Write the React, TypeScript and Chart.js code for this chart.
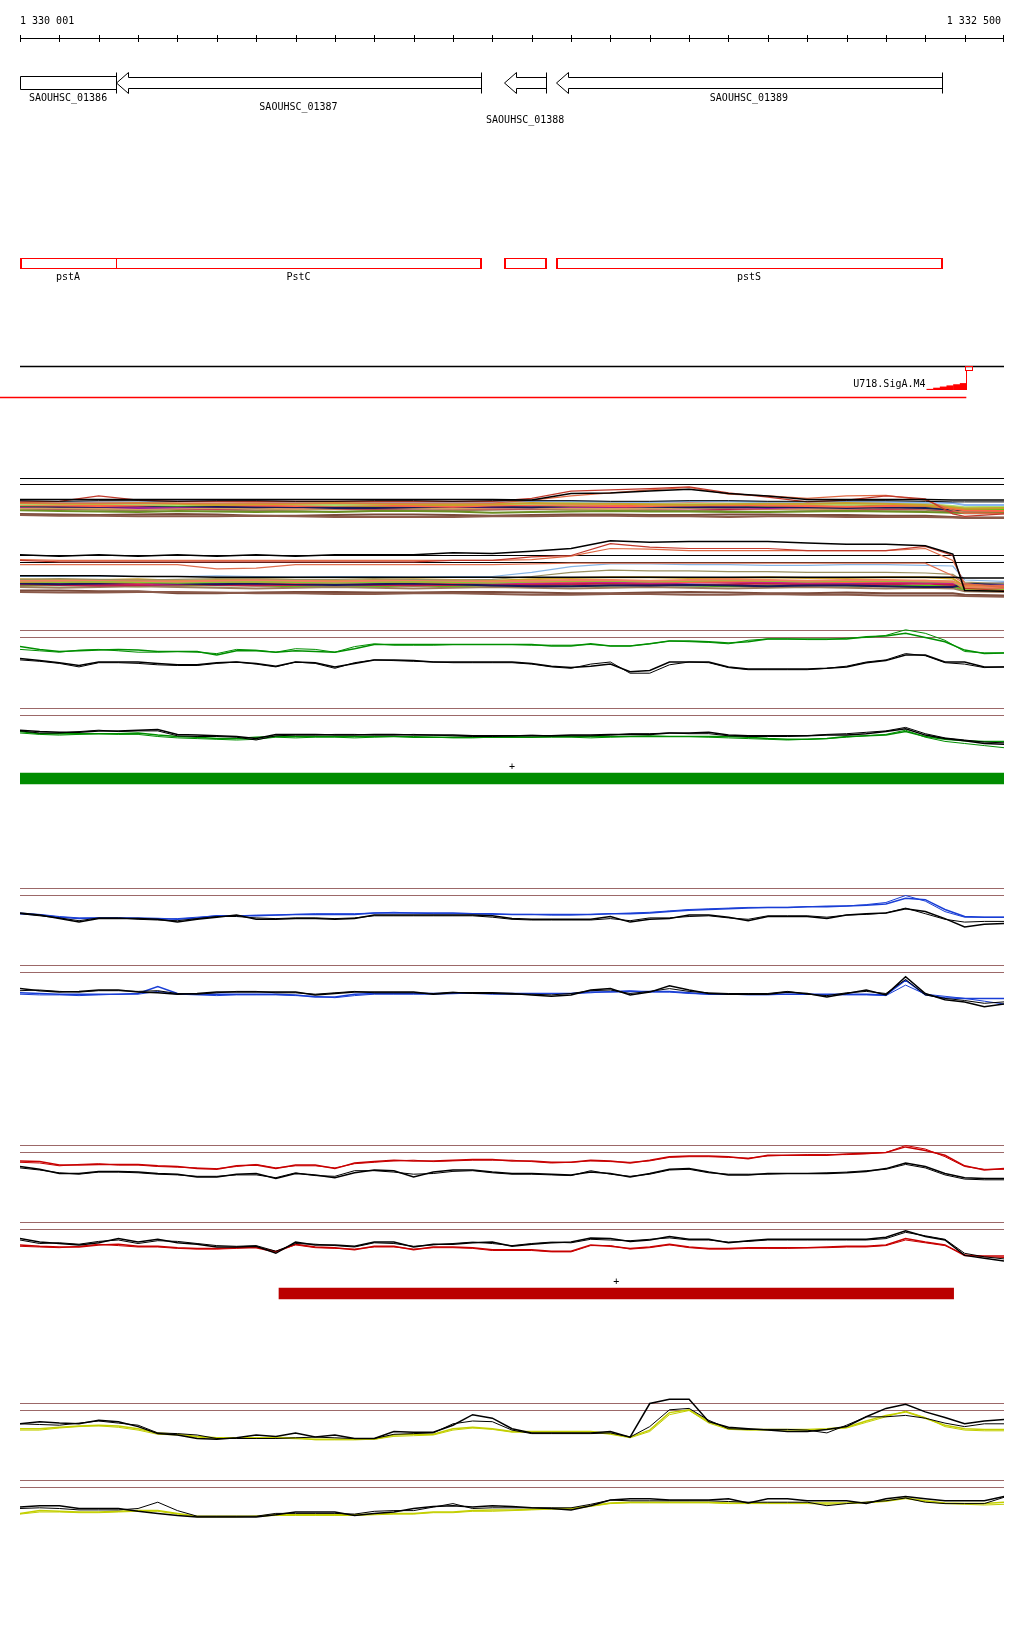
import React, { useEffect, useRef } from 'react';
import { Chart, registerables } from 'chart.js';

Chart.register(...registerables);

// ---------------- view / ruler ----------------
const VIEW_START = 1330000;
const VIEW_END = 1332500;
const RULER_STEP = 100;
const RULER_LABELS = ['1 330 001', '1 332 500'];

// ---------------- gene annotation ----------------
const GENE_NAMES = ['SAOUHSC_01386', 'SAOUHSC_01387', 'SAOUHSC_01388', 'SAOUHSC_01389'];
const GENE_STARTS = [1329700, 1330244, 1331230, 1331361];
const GENE_ENDS = [1330244, 1331171, 1331337, 1332343];
const GENE_STRANDS = ['-', '-', '-', '-'];

const OPERON_NAMES = ['pstA', 'PstC', '', 'pstS'];
const OPERON_STARTS = [1329700, 1330244, 1331230, 1331361];
const OPERON_ENDS = [1330244, 1331171, 1331337, 1332343];

const PROMOTER_NAME = 'U718.SigA.M4';
const PROMOTER_POS = 1332403;
const TRANSCRIPT_START = 1329900;
const TRANSCRIPT_END = 1332403;

const FEATURE_GREEN = [1329900, 1332600];
const FEATURE_RED = [1330658, 1332372];
const FEATURE_STRAND = '+';

const REF_LEVELS = [12, 11];

// sample positions
const POS51 = Array.from({ length: 51 }, (_, i) => VIEW_START + 50 * i);
const POS_MC = [1330000, 1330100, 1330200, 1330300, 1330400, 1330500, 1330600, 1330700, 1330800, 1330900,
  1331000, 1331100, 1331200, 1331300, 1331400, 1331500, 1331600, 1331700, 1331800, 1331900,
  1332000, 1332100, 1332200, 1332300, 1332370, 1332400, 1332500];

// ---------------- multi-condition panel, upper ----------------
const MC1_BLACK = [8.5,8.5,8.5,8.5,8.5,8.5,8.5,8.5,8.5,8.5,8.5,8.5,8.5,8.4,9.5,9.6,9.9,10.2,9.5,9.1,8.5,8.5,8.5,8.5,8.4,8.4,8.4];
const MC1_BLACK2 = [8.3,8.2,8.3,8.3,8.2,8.3,8.3,8.2,8.2,8.3,8.3,8.2,8.3,8.3,8.3,8.2,8.2,8.3,8.3,8.2,8.2,8.3,8.3,8.2,8.1,8.1,8.1];
const MC1_RED = [8.1,8.2,9.1,8.4,8.2,8.2,8.2,8.2,8.2,8.2,8.2,8.2,8.2,8.7,9.9,10.1,10.3,10.6,9.6,8.9,8.1,8.4,9.1,8.6,6.1,5.7,6.1];
const MC1_ORANGE = [7.9,7.9,7.9,7.9,7.9,7.9,7.9,7.9,7.9,7.9,7.9,7.9,7.9,8.4,9.1,9.6,10.1,10.5,9.4,9.1,8.7,9.1,9.2,8.4,6.7,6.2,6.2];
const MC1_LIGHTBLUE = [8.1,8.1,8.0,8.0,8.2,8.2,8.2,8.1,8.1,8.0,8.0,8.1,8.1,8.2,8.2,8.1,8.1,8.2,8.2,8.1,8.0,8.1,8.1,8.0,7.9,7.6,7.6];
const MC1_GOLD = [7.9,7.8,7.8,7.9,7.8,7.6,7.7,7.8,7.9,7.8,7.7,7.6,7.7,7.9,7.8,7.8,7.7,7.6,7.7,7.8,7.8,7.9,7.8,7.6,7.2,7.0,7.1];
const MC1_PURPLE = [7.3,7.4,7.3,7.1,7.2,7.3,7.3,7.2,7.2,7.3,7.4,7.3,7.2,7.2,7.3,7.3,7.4,7.3,7.2,7.1,7.2,7.3,7.2,7.2,6.9,6.8,6.9];
const MC1_OLIVE = [6.7,6.6,6.5,6.4,6.6,6.5,6.4,6.5,6.4,6.6,6.6,6.5,6.3,6.4,6.5,6.6,6.5,6.5,6.4,6.4,6.5,6.6,6.5,6.4,6.3,6.3,6.4];
const MC1_GREEN = [7.5,7.6,7.7,7.6,7.5,7.6,7.7,7.6,7.5,7.4,7.5,7.6,7.7,7.6,7.5,7.5,7.6,7.7,7.6,7.5,7.6,7.7,7.5,7.4,7.0,6.8,6.9];
const MC1_TOMATO = [7.6,7.5,7.4,7.5,7.7,7.6,7.5,7.4,7.5,7.5,7.4,7.3,7.5,7.6,7.5,7.4,7.4,7.5,7.6,7.5,7.4,7.3,7.4,7.5,7.0,6.7,6.6];
const MC1_TAN = [7.0,7.1,7.0,6.9,7.0,7.1,7.0,6.9,7.0,7.2,7.1,7.0,7.0,7.1,7.0,6.9,7.0,7.1,7.1,7.0,6.9,7.0,7.1,7.0,6.7,6.5,6.6];
const MC1_NAVY = [7.4,7.3,7.3,7.4,7.4,7.3,7.2,7.3,7.1,7.1,7.2,7.3,7.3,7.2,7.4,7.5,7.3,7.2,7.2,7.3,7.2,7.1,7.2,7.1,6.8,6.7,6.7];
const MC1_CRIMSON = [7.1,7.0,7.1,7.2,7.0,6.9,7.1,7.2,7.0,7.0,7.1,7.0,6.9,7.0,7.1,7.2,7.0,7.0,6.9,7.0,7.1,7.0,6.9,7.0,6.6,6.5,6.6];
const MC1_TAUPE = [6.8,6.9,6.8,6.7,6.9,6.8,6.7,6.8,6.9,6.8,6.7,6.7,6.8,6.9,6.8,6.8,6.7,6.6,6.8,6.9,6.8,6.7,6.8,6.8,6.4,6.2,6.2];
const MC1_BROWN = [6.1,6.0,5.9,6.0,6.1,6.0,5.8,5.8,5.9,6.0,6.0,5.9,5.8,5.9,6.0,6.0,5.9,5.9,6.0,6.0,5.9,5.9,5.8,5.8,5.6,5.5,5.5];
const MC1_SIENNA = [5.9,5.8,5.8,5.7,5.7,5.7,5.8,5.7,5.6,5.6,5.6,5.6,5.7,5.7,5.8,5.8,5.7,5.7,5.6,5.7,5.7,5.6,5.6,5.6,5.5,5.4,5.4];
const MC1_SALMON = [7.8,7.9,8.0,7.9,7.8,7.8,7.9,8.0,7.9,7.8,7.9,8.0,7.9,7.7,7.6,7.7,7.8,7.9,7.8,7.7,7.7,7.8,7.9,7.8,7.3,7.1,7.2];
const MC1_LIGHTGREEN = [7.7,7.7,7.8,7.7,7.6,7.7,7.8,7.7,7.6,7.7,7.8,7.8,7.7,7.8,7.9,7.8,7.7,7.7,7.8,7.9,7.8,7.7,7.8,7.7,7.4,7.2,7.3];

// ---------------- multi-condition panel, lower ----------------
const MC2_BLACK = [12.1,11.9,12.1,11.9,12.1,11.9,12.1,11.9,12.1,12.1,12.1,12.4,12.3,12.6,13.0,14.1,13.9,14.0,14.0,14.0,13.8,13.6,13.6,13.4,12.2,7.0,6.9];
const MC2_BLACK2 = [9.1,9.1,9.1,9.0,9.0,8.9,8.9,8.9,8.9,8.9,8.9,8.9,8.9,8.9,8.9,8.9,8.9,8.9,8.9,8.9,8.9,8.9,8.9,8.9,8.9,8.8,8.8];
const MC2_RED = [11.3,11.1,11.1,11.1,11.1,11.1,11.1,11.1,11.1,11.1,11.1,11.3,11.3,11.8,12.0,13.7,13.2,13.0,13.0,13.0,12.7,12.7,12.7,13.3,12.0,7.3,7.0];
const MC2_ORANGE = [10.7,10.7,10.7,10.7,10.7,10.1,10.2,10.7,10.7,10.7,10.7,10.7,10.7,10.8,10.9,10.9,10.9,10.9,10.9,10.9,10.9,10.9,10.9,10.9,9.1,7.9,7.6];
const MC2_ORANGE2 = [11.4,11.3,11.3,11.3,11.3,11.3,11.3,11.3,11.3,11.3,11.3,11.3,11.3,11.4,11.9,13.0,12.9,12.7,12.7,12.7,12.7,12.7,12.7,13.0,11.3,8.0,7.4];
const MC2_LIGHTBLUE = [9.0,9.0,9.1,9.0,9.0,9.1,9.0,8.9,9.0,9.0,8.9,9.0,9.0,9.6,10.4,10.8,10.8,10.7,10.7,10.6,10.6,10.7,10.7,10.6,10.5,8.5,8.3];
const MC2_OLIVEGRAY = [8.6,8.7,8.6,8.5,8.6,8.7,8.7,8.6,8.6,8.7,8.6,8.5,8.6,9.0,9.6,9.9,9.8,9.8,9.7,9.7,9.6,9.6,9.6,9.5,9.3,8.2,8.0];
const MC2_GOLD = [8.6,8.5,8.5,8.6,8.4,8.5,8.6,8.5,8.4,8.5,8.6,8.5,8.4,8.6,8.8,8.9,8.9,8.8,8.8,8.9,8.8,8.8,8.9,8.9,8.7,7.6,7.5];
const MC2_PURPLE = [7.9,8.0,7.9,7.8,7.9,8.0,7.9,7.8,7.9,7.8,7.9,8.0,7.9,8.0,8.1,8.1,8.0,8.1,8.2,8.1,8.0,8.1,8.0,8.1,8.0,7.4,7.3];
const MC2_GREEN = [7.7,7.8,7.7,7.6,7.7,7.8,7.7,7.6,7.5,7.6,7.7,7.6,7.7,7.7,7.6,7.7,7.8,7.7,7.6,7.7,7.8,7.7,7.6,7.7,7.6,7.0,7.1];
const MC2_TOMATO = [8.2,8.3,8.2,8.1,8.2,8.3,8.2,8.1,8.2,8.3,8.2,8.1,8.2,8.2,8.3,8.4,8.3,8.2,8.3,8.4,8.3,8.2,8.3,8.4,8.2,7.7,7.6];
const MC2_NAVY = [8.0,7.9,8.0,8.1,8.0,7.9,8.0,7.9,7.8,7.9,8.0,7.9,7.7,7.6,7.6,7.7,7.7,7.8,7.7,7.6,7.7,7.7,7.6,7.5,7.5,7.9,8.0];
const MC2_CRIMSON = [7.9,7.8,7.7,7.8,7.9,7.8,7.7,7.8,7.9,7.8,7.7,7.8,7.9,7.8,7.9,8.0,7.9,7.8,7.9,8.0,7.9,7.8,7.9,8.0,7.8,7.3,7.2];
const MC2_TAUPE = [7.5,7.4,7.5,7.6,7.5,7.4,7.3,7.4,7.5,7.4,7.3,7.4,7.5,7.4,7.3,7.4,7.5,7.4,7.3,7.4,7.5,7.4,7.3,7.4,7.3,6.9,6.8];
const MC2_BROWN = [7.0,7.0,6.9,6.9,6.6,6.6,6.7,6.8,6.8,6.7,6.7,6.8,6.8,6.7,6.6,6.6,6.7,6.8,6.7,6.6,6.6,6.7,6.6,6.6,6.6,6.4,6.3];
const MC2_SIENNA = [6.8,6.7,6.7,6.8,6.8,6.7,6.6,6.6,6.5,6.5,6.6,6.6,6.5,6.4,6.4,6.5,6.5,6.4,6.4,6.5,6.4,6.4,6.3,6.3,6.3,6.2,6.1];
const MC2_SALMON = [8.4,8.4,8.5,8.4,8.3,8.4,8.5,8.4,8.3,8.4,8.5,8.4,8.3,8.4,8.5,8.5,8.4,8.5,8.6,8.5,8.4,8.5,8.5,8.4,8.3,7.5,7.4];
const MC2_LIGHTGREEN = [8.3,8.2,8.3,8.2,8.1,8.2,8.3,8.2,8.1,8.2,8.3,8.2,8.1,8.3,8.4,8.4,8.3,8.4,8.5,8.4,8.3,8.4,8.4,8.3,8.3,7.2,7.1];
const MC2_MAGENTA = [8.1,8.0,8.1,8.0,7.9,8.0,8.1,8.0,7.9,8.0,8.1,8.0,8.0,8.1,8.2,8.2,8.1,8.2,8.3,8.2,8.1,8.2,8.2,8.1,8.1,7.8,7.7];

// ---------------- green condition ----------------
const GREEN1_A = [9.7,9.3,9.0,9.1,9.2,9.3,9.2,9.0,9.0,9.0,8.5,9.1,9.1,8.9,9.1,9.0,8.9,9.4,10.0,10.0,10.0,10.0,10.0,10.0,10.0,10.0,10.0,9.8,9.8,10.1,9.8,9.8,10.1,10.5,10.5,10.4,10.2,10.4,10.8,10.8,10.8,10.8,10.8,11.1,11.2,11.6,11.0,10.4,9.2,8.7,8.8];
const GREEN1_B = [9.3,9.1,8.9,9.2,9.3,9.1,8.9,8.9,9.0,8.9,8.7,9.3,9.2,8.9,9.4,9.3,8.9,9.7,10.1,9.9,9.9,9.9,10.0,10.0,10.0,10.0,9.9,9.9,9.9,10.0,9.8,9.8,10.1,10.5,10.4,10.3,10.1,10.6,10.8,10.8,10.7,10.7,10.9,11.0,11.3,12.1,11.6,10.6,9.0,8.8,8.8];
const GREEN1_CTRL_A = [8.0,7.7,7.4,7.0,7.5,7.5,7.5,7.3,7.1,7.1,7.4,7.5,7.3,6.9,7.5,7.4,6.8,7.3,7.8,7.8,7.7,7.5,7.5,7.5,7.5,7.5,7.3,6.9,6.7,6.9,7.2,6.1,6.3,7.5,7.5,7.5,6.8,6.5,6.5,6.5,6.5,6.6,6.8,7.4,7.7,8.5,8.5,7.5,7.5,6.8,6.8];
const GREEN1_CTRL_B = [7.8,7.6,7.3,6.8,7.4,7.4,7.3,7.1,7.0,7.0,7.3,7.5,7.2,6.8,7.5,7.3,6.6,7.4,7.8,7.7,7.6,7.5,7.4,7.4,7.4,7.4,7.2,6.8,6.6,7.2,7.5,5.9,5.9,7.1,7.5,7.4,6.7,6.4,6.4,6.4,6.4,6.6,6.9,7.5,7.8,8.7,8.4,7.4,7.2,6.7,6.8];
const GREEN2_A = [8.7,8.4,8.4,8.4,8.4,8.4,8.5,8.2,8.0,7.9,7.7,7.7,7.9,8.0,8.0,8.0,8.0,8.0,8.0,8.0,7.9,7.9,7.9,7.9,7.9,7.9,7.9,8.0,8.0,8.0,8.0,8.0,8.0,8.0,8.0,8.0,8.0,7.9,7.7,7.6,7.6,7.7,8.0,8.1,8.2,8.7,8.0,7.6,7.4,7.3,7.3];
const GREEN2_B = [8.5,8.3,8.2,8.3,8.4,8.3,8.3,8.0,7.8,7.7,7.6,7.5,7.6,7.9,7.8,7.9,7.9,7.8,7.9,8.0,8.0,7.9,7.8,7.8,7.9,8.0,7.9,7.9,7.9,7.8,7.9,8.0,8.1,8.0,8.0,7.9,7.8,7.7,7.6,7.5,7.6,7.7,7.9,8.1,8.3,8.9,7.9,7.3,7.0,6.7,6.4];
const GREEN2_CTRL_A = [8.9,8.7,8.6,8.6,8.8,8.8,8.9,9.0,8.3,8.2,8.1,8.0,7.7,8.3,8.3,8.3,8.2,8.2,8.3,8.3,8.2,8.2,8.2,8.1,8.1,8.1,8.1,8.1,8.2,8.2,8.3,8.3,8.3,8.5,8.5,8.6,8.2,8.1,8.1,8.1,8.1,8.2,8.2,8.4,8.7,9.1,8.2,7.7,7.4,7.0,6.9];
const GREEN2_CTRL_B = [8.8,8.5,8.5,8.7,8.9,8.7,8.8,8.8,8.1,8.0,8.0,7.9,7.5,8.1,8.2,8.2,8.3,8.3,8.2,8.2,8.3,8.2,8.1,8.0,8.0,8.1,8.2,8.1,8.1,8.1,8.2,8.4,8.4,8.5,8.4,8.4,8.1,8.0,8.0,8.0,8.1,8.3,8.4,8.6,8.8,9.3,8.4,7.8,7.5,7.2,7.1];

// ---------------- blue condition ----------------
const BLUE1_A = [8.4,8.2,7.9,7.7,7.8,7.8,7.8,7.7,7.6,7.8,8.1,8.1,8.1,8.2,8.3,8.3,8.3,8.3,8.5,8.5,8.5,8.5,8.5,8.4,8.4,8.3,8.3,8.3,8.3,8.3,8.4,8.4,8.5,8.7,8.9,9.0,9.1,9.2,9.3,9.3,9.4,9.4,9.5,9.6,9.8,10.6,10.4,9.0,8.0,7.9,7.9];
const BLUE1_B = [8.5,8.3,8.0,7.8,7.8,7.8,7.7,7.6,7.7,7.9,8.1,8.1,8.2,8.2,8.3,8.4,8.4,8.4,8.5,8.6,8.5,8.4,8.4,8.4,8.3,8.3,8.3,8.2,8.2,8.3,8.4,8.5,8.6,8.8,9.0,9.1,9.2,9.3,9.3,9.3,9.4,9.5,9.5,9.7,10.0,11.0,10.2,8.7,7.9,7.9,7.9];
const BLUE1_CTRL_A = [8.5,8.2,7.7,7.2,7.7,7.7,7.7,7.6,7.2,7.6,7.9,8.2,7.6,7.6,7.7,7.7,7.6,7.7,8.2,8.2,8.2,8.2,8.2,8.2,8.1,7.7,7.6,7.6,7.6,7.6,8.0,7.2,7.6,7.7,8.2,8.2,7.9,7.4,8.0,8.0,8.0,7.7,8.2,8.4,8.5,9.1,8.7,7.7,6.5,6.9,7.0];
const BLUE1_CTRL_B = [8.4,8.1,7.8,7.4,7.8,7.8,7.6,7.5,7.4,7.7,8.0,8.0,7.8,7.7,7.8,7.8,7.7,7.8,8.1,8.1,8.1,8.1,8.1,8.1,7.9,7.6,7.5,7.5,7.5,7.5,7.7,7.4,7.8,7.8,8.0,8.1,7.8,7.6,8.1,8.1,8.1,7.9,8.2,8.3,8.5,9.2,8.4,7.6,7.2,7.3,7.3];
const BLUE2_A = [8.1,8.0,7.9,7.9,7.9,7.9,8.0,9.0,8.0,7.9,7.9,7.9,7.9,7.9,7.8,7.5,7.5,7.9,8.0,8.0,8.0,8.0,8.0,8.1,8.0,8.0,8.0,8.0,8.0,8.2,8.2,8.3,8.3,8.3,8.1,7.9,7.9,7.9,7.9,7.9,7.9,7.9,7.9,7.9,7.8,9.9,7.8,7.4,7.3,7.3,7.3];
const BLUE2_B = [7.9,7.8,7.8,7.7,7.8,7.9,7.9,8.3,7.9,7.8,7.7,7.8,7.8,7.8,7.7,7.6,7.4,7.7,7.9,7.9,7.9,7.9,8.0,8.0,7.9,7.9,8.0,8.0,8.0,8.1,8.3,8.4,8.2,8.2,8.0,7.9,7.9,7.8,7.8,7.9,7.9,7.8,7.8,7.8,7.7,9.2,7.9,7.6,7.3,6.9,6.5];
const BLUE2_CTRL_A = [8.7,8.4,8.2,8.3,8.5,8.5,8.2,8.1,7.9,8.0,8.2,8.2,8.2,8.2,8.2,7.8,8.0,8.2,8.2,8.2,8.2,7.9,8.1,8.1,8.1,8.0,7.8,7.6,7.8,8.5,8.7,7.8,8.2,9.1,8.5,8.0,7.9,7.9,7.9,8.2,8.0,7.5,8.0,8.5,7.8,10.4,8.0,7.1,6.8,6.1,6.5];
const BLUE2_CTRL_B = [8.4,8.5,8.3,8.2,8.4,8.4,8.3,8.4,8.0,7.9,8.1,8.3,8.3,8.1,8.1,7.9,8.1,8.3,8.1,8.1,8.1,8.0,8.2,8.0,8.0,7.9,7.9,7.8,8.0,8.4,8.5,8.0,8.3,8.7,8.3,8.1,8.0,8.0,8.0,8.3,7.9,7.7,8.1,8.3,8.0,10.0,7.8,7.3,7.0,6.6,6.8];

// ---------------- red condition ----------------
const RED1_A = [9.8,9.7,9.2,9.2,9.3,9.3,9.3,9.1,9.0,8.7,8.6,9.1,9.2,8.7,9.2,9.2,8.7,9.5,9.7,9.9,9.8,9.8,9.9,10.0,10.0,9.8,9.8,9.6,9.6,9.9,9.8,9.5,9.9,10.4,10.5,10.5,10.4,10.1,10.6,10.6,10.6,10.6,10.8,10.9,11.0,11.8,11.3,10.6,9.1,8.5,8.7];
const RED1_B = [9.6,9.5,9.1,9.3,9.4,9.2,9.2,9.0,8.9,8.8,8.7,9.0,9.3,8.8,9.1,9.1,8.8,9.4,9.6,9.8,9.9,9.7,9.8,9.9,9.9,9.9,9.7,9.5,9.6,9.8,9.7,9.6,9.8,10.3,10.4,10.4,10.3,10.2,10.5,10.6,10.7,10.7,10.7,10.8,11.0,12.0,11.5,10.4,9.0,8.6,8.6];
const RED1_CTRL_A = [9.0,8.6,8.0,8.0,8.3,8.3,8.2,8.0,7.9,7.5,7.5,7.9,8.0,7.3,8.0,7.8,7.4,8.1,8.5,8.4,7.5,8.2,8.5,8.5,8.2,8.0,8.0,7.9,7.8,8.2,8.0,7.5,8.0,8.6,8.7,8.2,7.8,7.8,8.0,8.0,8.0,8.0,8.1,8.3,8.7,9.5,9.0,8.0,7.4,7.3,7.3];
const RED1_CTRL_B = [8.8,8.5,8.1,7.9,8.2,8.2,8.1,7.9,7.8,7.6,7.6,7.8,7.8,7.4,8.1,7.7,7.6,8.4,8.4,8.2,7.9,8.0,8.3,8.4,8.1,7.9,7.9,7.8,7.7,8.4,7.9,7.6,7.9,8.5,8.6,8.1,7.9,7.9,7.9,8.0,8.0,8.1,8.2,8.4,8.6,9.3,8.8,7.8,7.2,7.1,7.1];
const RED2_A = [8.8,8.6,8.5,8.5,8.8,8.9,8.6,8.6,8.4,8.3,8.3,8.4,8.4,7.8,8.9,8.5,8.4,8.1,8.6,8.6,8.1,8.5,8.5,8.4,8.1,8.1,8.1,7.9,7.9,8.8,8.6,8.3,8.5,8.9,8.5,8.3,8.3,8.4,8.4,8.4,8.4,8.5,8.6,8.6,8.8,9.7,9.2,8.8,7.3,7.2,7.2];
const RED2_B = [8.6,8.5,8.4,8.6,8.9,8.7,8.5,8.5,8.3,8.2,8.2,8.3,8.5,7.9,8.8,8.4,8.3,8.2,8.5,8.5,8.2,8.4,8.4,8.3,8.0,8.0,8.0,7.8,7.8,8.7,8.7,8.2,8.4,8.8,8.4,8.2,8.2,8.3,8.3,8.3,8.4,8.4,8.5,8.5,8.7,9.5,9.1,8.7,7.4,7.1,7.0];
const RED2_CTRL_A = [9.7,9.2,9.0,8.8,9.1,9.7,9.2,9.6,9.1,8.9,8.5,8.5,8.6,7.6,9.2,8.8,8.8,8.6,9.2,9.2,8.5,8.9,8.9,9.1,9.2,8.6,8.9,9.1,9.2,9.8,9.7,9.3,9.5,10.0,9.6,9.6,9.1,9.4,9.6,9.6,9.6,9.6,9.6,9.6,9.9,10.8,10.0,9.5,7.3,6.9,6.5];
const RED2_CTRL_B = [9.5,9.0,9.1,8.9,9.3,9.5,9.0,9.4,9.3,9.0,8.7,8.6,8.7,7.9,9.0,8.9,8.7,8.5,9.1,9.0,8.6,8.8,9.0,9.2,9.0,8.7,9.0,9.2,9.1,9.6,9.5,9.4,9.6,9.8,9.5,9.5,9.2,9.3,9.5,9.5,9.5,9.5,9.5,9.5,9.7,10.6,10.1,9.6,7.6,7.1,6.8];

// ---------------- yellow condition ----------------
const YELLOW1_A = [8.4,8.4,8.6,8.8,8.9,8.8,8.4,7.8,7.6,7.3,7.1,7.1,7.1,7.1,7.0,6.9,6.9,6.9,6.9,7.5,7.6,7.6,8.4,8.6,8.4,8.0,8.0,8.0,8.0,8.0,7.7,7.2,8.2,10.7,11.1,9.4,8.4,8.3,8.3,8.3,8.3,8.4,8.6,9.5,10.3,10.8,9.9,8.9,8.4,8.3,8.3];
const YELLOW1_B = [8.2,8.2,8.5,8.7,8.8,8.6,8.2,7.6,7.5,7.2,7.0,7.0,7.1,7.2,7.1,6.8,6.8,6.8,6.9,7.3,7.4,7.5,8.2,8.5,8.3,7.9,7.9,7.9,7.9,7.9,7.6,7.1,8.0,10.4,11.0,9.2,8.3,8.2,8.2,8.2,8.2,8.3,8.5,9.3,10.1,10.9,10.0,8.7,8.2,8.1,8.1];
const YELLOW1_CTRL_A = [9.1,9.4,9.2,9.1,9.6,9.4,8.7,7.7,7.5,7.0,6.9,7.1,7.5,7.3,7.8,7.2,7.5,7.0,7.0,8.0,7.9,7.9,8.9,10.4,9.9,8.4,7.8,7.8,7.8,7.8,8.0,7.2,12.0,12.6,12.6,9.4,8.6,8.4,8.2,8.0,8.0,8.3,8.7,10.1,11.3,11.9,10.8,10.0,9.1,9.5,9.7];
const YELLOW1_CTRL_B = [9.1,9.0,8.9,9.2,9.5,9.2,8.9,7.8,7.7,7.5,7.0,7.0,7.0,7.0,7.1,7.2,7.1,7.0,7.0,7.6,7.7,7.8,9.1,9.5,9.4,8.2,7.7,7.7,7.7,7.7,7.8,7.2,8.7,11.1,11.3,9.6,8.4,8.3,8.3,8.3,8.2,7.8,8.9,10.1,10.1,10.3,9.9,9.2,8.7,9.1,9.1];
const YELLOW2_A = [7.3,7.7,7.6,7.5,7.5,7.6,7.7,7.7,7.3,6.9,6.9,6.9,6.9,7.1,7.1,7.1,7.1,7.1,7.2,7.3,7.3,7.5,7.5,7.7,7.8,7.8,7.9,8.0,8.0,8.4,8.8,8.9,8.9,8.9,8.9,8.9,8.8,8.8,8.8,8.8,8.8,8.8,8.8,8.9,9.1,9.5,9.1,8.8,8.7,8.7,8.9];
const YELLOW2_B = [7.2,7.5,7.5,7.4,7.4,7.5,7.6,7.6,7.2,6.8,6.8,6.8,6.9,7.0,7.0,7.0,7.0,7.0,7.1,7.2,7.2,7.4,7.4,7.6,7.6,7.7,7.8,7.9,7.9,8.3,8.7,8.8,8.8,8.8,8.8,8.8,8.7,8.7,8.7,8.7,8.7,8.6,8.7,8.8,9.0,9.4,9.0,8.7,8.6,8.5,8.6];
const YELLOW2_CTRL_A = [8.2,8.4,8.4,8.0,8.0,8.0,7.6,7.3,7.0,6.8,6.8,6.8,6.8,7.1,7.5,7.5,7.5,7.0,7.3,7.5,8.0,8.3,8.4,8.2,8.4,8.3,8.1,8.0,7.8,8.4,9.2,9.4,9.4,9.2,9.2,9.2,9.4,8.8,9.4,9.4,9.1,9.1,9.1,8.7,9.4,9.7,9.4,9.1,9.1,9.1,9.7];
const YELLOW2_CTRL_B = [8.0,8.1,8.0,7.8,7.8,7.8,8.0,8.9,7.7,6.9,6.9,6.9,6.9,7.3,7.3,7.3,7.3,7.2,7.6,7.7,7.7,8.2,8.7,8.0,8.1,8.1,8.1,8.1,8.1,8.6,9.2,9.1,9.1,9.1,9.1,9.1,9.0,8.9,8.9,8.9,8.9,8.4,8.7,8.9,9.1,9.5,8.9,8.7,8.7,8.7,9.6];

// ---------------- styling / layout ----------------
const W = 1024;
const PAD_X = 20;
const FONT = '10px "DejaVu Sans Mono", monospace';
const REF_BROWN = '#9c6868';
const C_GREEN = '#008f00';
const C_BLUE = '#1a3fd6';
const C_RED = '#c80000';
const C_YELLOW = '#c3cf00';
const C_BLACK = '#000000';

const line = (values, color, width, order) => ({ values, color, width, order });

const MC1_LINES = [
  line(MC1_SIENNA, '#8b5a4a', 2, 20), line(MC1_BROWN, '#7a4a3a', 2, 20),
  line(MC1_OLIVE, '#6b8e23', 2, 19), line(MC1_TAUPE, '#9c7c5c', 2, 19),
  line(MC1_TAN, '#d2a060', 2, 18), line(MC1_CRIMSON, '#c01c4a', 2, 18),
  line(MC1_NAVY, '#1a1a5a', 2, 17), line(MC1_PURPLE, '#9b1f9b', 2, 17),
  line(MC1_TOMATO, '#ff6347', 2, 16), line(MC1_GREEN, '#55cc11', 2, 16),
  line(MC1_LIGHTGREEN, '#a8e070', 2, 15), line(MC1_SALMON, '#f08060', 2, 15),
  line(MC1_GOLD, '#c8a02a', 2, 14), line(MC1_LIGHTBLUE, '#8ab4f0', 2, 14),
  line(MC1_ORANGE, '#e06a45', 1.2, 5), line(MC1_RED, '#c0392b', 1.2, 4),
  line(MC1_BLACK2, C_BLACK, 1, 1), line(MC1_BLACK, C_BLACK, 1.5, 0),
];
const MC2_LINES = [
  line(MC2_SIENNA, '#8b5a4a', 2, 20), line(MC2_BROWN, '#7a4a3a', 2, 20),
  line(MC2_TAUPE, '#9c7c5c', 2, 19), line(MC2_GREEN, '#55cc11', 2, 19),
  line(MC2_CRIMSON, '#c01c4a', 2, 18), line(MC2_PURPLE, '#9b1f9b', 2, 18),
  line(MC2_NAVY, '#1a1a5a', 2, 17), line(MC2_MAGENTA, '#d0208a', 2, 17),
  line(MC2_LIGHTGREEN, '#88cc33', 2, 16), line(MC2_TOMATO, '#ff6347', 2, 16),
  line(MC2_SALMON, '#f08060', 2, 15), line(MC2_GOLD, '#c8a02a', 2, 15),
  line(MC2_OLIVEGRAY, '#9a9060', 1.2, 12), line(MC2_LIGHTBLUE, '#87b5e5', 1.2, 12),
  line(MC2_ORANGE, '#e07050', 1.2, 6), line(MC2_ORANGE2, '#e06a45', 1.2, 5), line(MC2_RED, '#c0392b', 1.2, 4),
  line(MC2_BLACK2, C_BLACK, 1.5, 1), line(MC2_BLACK, C_BLACK, 1.5, 0),
];

const pair = (cA, cB, kA, kB, color) => [
  line(cA, color, 1.5, 10), line(cB, color, 1, 9), line(kA, C_BLACK, 1.5, 1), line(kB, C_BLACK, 1, 0),
];

// row = pixel row of reference level 12, ppu = pixels per unit
const TRACKS = [
  { row: 478, ppu: 6, ref: C_BLACK, pos: POS_MC, lines: MC1_LINES },
  { row: 555, ppu: 7, ref: C_BLACK, pos: POS_MC, lines: MC2_LINES },
  { row: 630, ppu: 7, ref: REF_BROWN, pos: POS51, lines: pair(GREEN1_A, GREEN1_B, GREEN1_CTRL_A, GREEN1_CTRL_B, C_GREEN) },
  { row: 708, ppu: 7, ref: REF_BROWN, pos: POS51, lines: pair(GREEN2_A, GREEN2_B, GREEN2_CTRL_A, GREEN2_CTRL_B, C_GREEN) },
  { row: 888, ppu: 7, ref: REF_BROWN, pos: POS51, lines: pair(BLUE1_A, BLUE1_B, BLUE1_CTRL_A, BLUE1_CTRL_B, C_BLUE) },
  { row: 965, ppu: 7, ref: REF_BROWN, pos: POS51, lines: pair(BLUE2_A, BLUE2_B, BLUE2_CTRL_A, BLUE2_CTRL_B, C_BLUE) },
  { row: 1145, ppu: 7, ref: REF_BROWN, pos: POS51, lines: pair(RED1_A, RED1_B, RED1_CTRL_A, RED1_CTRL_B, C_RED) },
  { row: 1222, ppu: 7, ref: REF_BROWN, pos: POS51, lines: pair(RED2_A, RED2_B, RED2_CTRL_A, RED2_CTRL_B, C_RED) },
  { row: 1403, ppu: 7, ref: REF_BROWN, pos: POS51, lines: pair(YELLOW1_A, YELLOW1_B, YELLOW1_CTRL_A, YELLOW1_CTRL_B, C_YELLOW) },
  { row: 1480, ppu: 7, ref: REF_BROWN, pos: POS51, lines: pair(YELLOW2_A, YELLOW2_B, YELLOW2_CTRL_A, YELLOW2_CTRL_B, C_YELLOW) },
];
const Y_MIN = 4;
const Y_MAX = 15;

const FEATURES = [
  { top: 758, range: FEATURE_GREEN, color: '#008c00' },
  { top: 1273, range: FEATURE_RED, color: '#bb0000' },
];

const baseOptions = (padTop, padBottom) => ({
  animation: false,
  responsive: false,
  maintainAspectRatio: false,
  devicePixelRatio: 1,
  events: [],
  layout: { padding: { left: PAD_X, right: PAD_X, top: padTop, bottom: padBottom } },
  plugins: { legend: { display: false }, tooltip: { enabled: false } },
});

// ---------------- annotation plugin (ruler, genes, operons, promoter) ----------------
const GENE_LABEL_ROWS = [0, 1, 2, 0];
const GENE_LABEL_BASELINES = [101, 110, 122.5];

const annotationPlugin = {
  id: 'annotations',
  afterDraw(chart) {
    const ctx = chart.ctx;
    const xs = chart.scales.x;
    const px = (v) => xs.getPixelForValue(v);
    const L = chart.chartArea.left;
    const R = chart.chartArea.right;
    const snap = (x) => Math.round(x) + 0.5;
    ctx.save();
    ctx.font = FONT;
    ctx.fillStyle = '#000';
    ctx.strokeStyle = '#000';
    ctx.lineWidth = 1;
    ctx.textBaseline = 'alphabetic';

    // ruler
    ctx.textAlign = 'left';
    ctx.fillText(RULER_LABELS[0], L, 24);
    ctx.textAlign = 'right';
    ctx.fillText(RULER_LABELS[1], R - 3, 24);
    ctx.beginPath();
    ctx.moveTo(L, 38.5);
    ctx.lineTo(R, 38.5);
    for (let v = VIEW_START; v <= VIEW_END; v += RULER_STEP) {
      const x = Math.min(snap(px(v)), R - 0.5);
      ctx.moveTo(x, 35);
      ctx.lineTo(x, 42);
    }
    ctx.stroke();

    // genes
    const cy = 83, bh = 5.5, hh = 10.5, hl = 12;
    GENE_NAMES.forEach((name, i) => {
      const a = px(GENE_STARTS[i]);
      const b = px(GENE_ENDS[i]);
      const reverse = GENE_STRANDS[i] === '-';
      const tip = reverse ? a : b;
      const tail = reverse ? b : a;
      const xt = snap(tail);
      ctx.beginPath();
      if (tip >= L - 1 && tip <= R + 1) {
        const xp = snap(tip);
        const dir = reverse ? 1 : -1;
        const hb = xp + dir * hl;
        ctx.moveTo(xp, cy);
        ctx.lineTo(hb, cy - hh);
        ctx.lineTo(hb, cy - bh);
        ctx.lineTo(xt, cy - bh);
        ctx.lineTo(xt, cy + bh);
        ctx.lineTo(hb, cy + bh);
        ctx.lineTo(hb, cy + hh);
        ctx.closePath();
      } else {
        const xc = reverse ? L + 0.5 : R - 0.5;
        ctx.rect(Math.min(xc, xt), cy - bh - 1, Math.abs(xt - xc), 2 * bh + 2);
      }
      ctx.moveTo(xt, cy - hh);
      ctx.lineTo(xt, cy + hh);
      ctx.stroke();
      const v0 = Math.max(Math.min(a, b), L);
      const v1 = Math.min(Math.max(a, b), R);
      ctx.textAlign = 'center';
      ctx.fillText(name, (v0 + v1) / 2, GENE_LABEL_BASELINES[GENE_LABEL_ROWS[i]]);
    });

    // operon / gene-name boxes
    OPERON_NAMES.forEach((name, i) => {
      const a = Math.max(px(OPERON_STARTS[i]), L);
      const b = Math.min(px(OPERON_ENDS[i]), R);
      const x0 = Math.round(a);
      const x1 = Math.round(b);
      ctx.strokeStyle = '#ff0000';
      ctx.fillStyle = '#ff0000';
      ctx.lineWidth = 1;
      ctx.strokeRect(x0 + 0.5, 258.5, x1 - x0, 10);
      const sharedLeft = OPERON_ENDS.some((e, j) => j !== i && Math.abs(e - OPERON_STARTS[i]) < 2);
      const sharedRight = OPERON_STARTS.some((s, j) => j !== i && Math.abs(s - OPERON_ENDS[i]) < 2);
      if (!sharedLeft) ctx.fillRect(x0, 258, 2, 11);
      if (!sharedRight) ctx.fillRect(x1 - 1, 258, 2, 11);
      if (name) {
        ctx.fillStyle = '#000';
        ctx.textAlign = 'center';
        ctx.fillText(name, (a + b) / 2, 279.5);
      }
    });

    // promoter track
    ctx.strokeStyle = '#000';
    ctx.lineWidth = 1.5;
    ctx.beginPath();
    ctx.moveTo(L, 366.5);
    ctx.lineTo(R, 366.5);
    ctx.stroke();
    const xpr = snap(px(PROMOTER_POS));
    ctx.strokeStyle = '#ff0000';
    ctx.fillStyle = '#ff0000';
    ctx.lineWidth = 1;
    ctx.strokeRect(xpr - 1, 366.5, 7, 4);
    ctx.beginPath();
    ctx.moveTo(xpr, 370.5);
    ctx.lineTo(xpr, 390);
    ctx.stroke();
    const stepW = 40 / 6;
    for (let k = 0; k < 6; k++) {
      const h = (k + 1) * 1.15;
      ctx.fillRect(xpr - 40 + k * stepW, 390 - h, stepW + 0.5, h);
    }
    ctx.lineWidth = 1.5;
    ctx.beginPath();
    ctx.moveTo(px(TRANSCRIPT_START), 397.5);
    ctx.lineTo(px(TRANSCRIPT_END) + 0.5, 397.5);
    ctx.stroke();
    ctx.fillStyle = '#000';
    ctx.textAlign = 'right';
    ctx.fillText(PROMOTER_NAME, xpr - 41, 387);
    ctx.restore();
  },
};

const annotationConfig = () => ({
  type: 'line',
  data: { datasets: [] },
  options: {
    ...baseOptions(0, 0),
    scales: {
      x: { type: 'linear', min: VIEW_START, max: VIEW_END, display: false },
      y: { min: 0, max: 1, display: false },
    },
  },
  plugins: [annotationPlugin],
});

const trackConfig = (t) => {
  const datasets = [];
  t.lines.forEach((l) => {
    datasets.push({
      data: t.pos.map((x, i) => ({ x, y: l.values[i] })),
      borderColor: l.color,
      borderWidth: l.width,
      pointRadius: 0,
      tension: 0,
      fill: false,
      order: l.order,
    });
  });
  REF_LEVELS.forEach((v) => {
    datasets.push({
      data: [{ x: VIEW_START, y: v }, { x: VIEW_END, y: v }],
      borderColor: t.ref,
      borderWidth: 1,
      pointRadius: 0,
      tension: 0,
      fill: false,
      order: 100,
    });
  });
  return {
    type: 'line',
    data: { datasets },
    options: {
      ...baseOptions(0.5, 0.5),
      scales: {
        x: { type: 'linear', min: VIEW_START, max: VIEW_END, display: false },
        y: { type: 'linear', min: Y_MIN, max: Y_MAX, display: false },
      },
    },
  };
};

const strandLabelPlugin = {
  id: 'strandLabel',
  afterDatasetsDraw(chart) {
    const el = chart.getDatasetMeta(0).data[0];
    if (!el) return;
    const p = el.getProps(['x', 'base', 'y', 'height'], true);
    const a = Math.max(Math.min(p.x, p.base), chart.chartArea.left);
    const b = Math.min(Math.max(p.x, p.base), chart.chartArea.right);
    const ctx = chart.ctx;
    ctx.save();
    ctx.font = FONT;
    ctx.fillStyle = '#000';
    ctx.textAlign = 'center';
    ctx.textBaseline = 'alphabetic';
    ctx.fillText(FEATURE_STRAND, (a + b) / 2, p.y - p.height / 2 - 3);
    ctx.restore();
  },
};

const featureConfig = (f) => ({
  type: 'bar',
  data: {
    labels: [FEATURE_STRAND],
    datasets: [{ data: [f.range], backgroundColor: f.color, borderWidth: 0, barThickness: 11, clip: 0 }],
  },
  options: {
    ...baseOptions(0, 0),
    indexAxis: 'y',
    scales: {
      x: { type: 'linear', min: VIEW_START, max: VIEW_END, display: false },
      y: { type: 'category', display: false },
    },
  },
  plugins: [strandLabelPlugin],
});

function ChartCanvas({ top, height, makeConfig }) {
  const ref = useRef(null);
  useEffect(() => {
    const chart = new Chart(ref.current, makeConfig());
    return () => chart.destroy();
  }, []);
  return (
    <canvas
      ref={ref}
      width={W}
      height={height}
      style={{ position: 'absolute', left: 0, top, width: W, height, display: 'block' }}
    />
  );
}

export default function App() {
  return (
    <div style={{ position: 'absolute', left: 0, top: 0, width: W, height: 1640, background: '#fff', overflow: 'hidden' }}>
      <ChartCanvas top={0} height={410} makeConfig={annotationConfig} />
      {TRACKS.map((t, i) => (
        <ChartCanvas
          key={'t' + i}
          top={t.row - (Y_MAX - REF_LEVELS[0]) * t.ppu}
          height={(Y_MAX - Y_MIN) * t.ppu + 1}
          makeConfig={() => trackConfig(t)}
        />
      ))}
      {FEATURES.map((f, i) => (
        <ChartCanvas key={'f' + i} top={f.top} height={41} makeConfig={() => featureConfig(f)} />
      ))}
    </div>
  );
}
